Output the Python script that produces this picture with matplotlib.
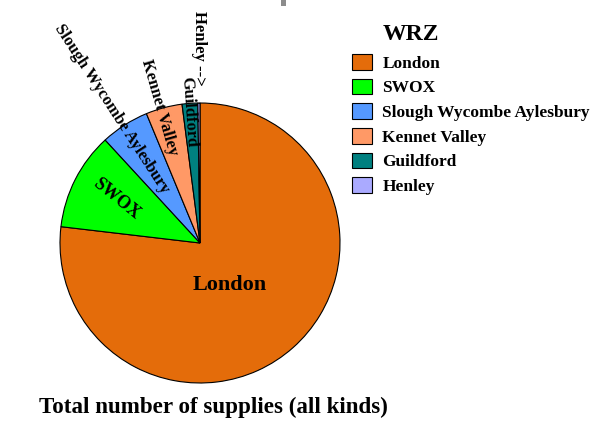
import matplotlib
matplotlib.use("Agg")
import matplotlib.pyplot as plt
from matplotlib.patches import Rectangle, Patch

categories = ["London", "SWOX", "Slough Wycombe Aylesbury", "Kennet Valley", "Guildford", "Henley"]
values = [76.9, 11.3, 5.6, 4.2, 1.8, 0.25]
colors = ["#E46C0A", "#00FF00", "#5599FF", "#FF9966", "#008080", "#AAAAFF"]
title = "Total number of supplies (all kinds)"
legend_title = "WRZ"

W, H = 602, 426
fig = plt.figure(figsize=(W / 100, H / 100), dpi=100)
ax = fig.add_axes([0, 0, 1, 1])

serif = ["Liberation Serif", "DejaVu Serif"]

cx, cy, r = 200, H - 243, 140
wedges, _ = ax.pie(values, colors=colors, startangle=90, counterclock=False,
                   center=(cx, cy), radius=r, frame=True,
                   wedgeprops=dict(edgecolor="black", linewidth=0.8))
ax.set_xlim(0, W)
ax.set_ylim(0, H)
ax.set_aspect("equal")
ax.axis("off")

def P(x, y):
    return x, H - y

# slice labels (pixel positions)
lbl = [
    ("London", (230, 285), 0, 16),
    ("SWOX", (116, 199), -39, 13),
    ("Slough Wycombe Aylesbury", (112, 109), -57, 12),
    ("Kennet Valley", (159, 107), -74, 12),
    ("Guildford", (189, 112), -86, 12),
    ("Henley -->", (199, 48), -90, 12),
]
for text, (x, y), rot, fs in lbl:
    ax.text(*P(x, y), text, rotation=rot, ha="center", va="center",
            fontsize=fs, fontweight="bold", family=serif, rotation_mode="anchor")

# legend
handles = [Patch(facecolor=c, edgecolor="black", linewidth=0.8) for c in colors]
leg = fig.legend(handles, categories, loc="upper left",
                 bbox_to_anchor=(352 / W, 1 - 54 / H), frameon=False,
                 prop=dict(family=serif, weight="bold", size=12.5),
                 handlelength=1.15, handleheight=1.0, handletextpad=0.6,
                 labelspacing=0.4, borderpad=0, borderaxespad=0)
fig.text(383 / W, 1 - 35 / H, legend_title, ha="left", va="center",
         fontsize=17, fontweight="bold", family=serif)

# title
fig.text(213 / W, 1 - 407 / H, title, ha="center", va="center",
         fontsize=16.6, fontweight="bold", family=serif)

# small gray mark at top
fig.patches.append(Rectangle((281, H - 6), 5, 6, transform=None,
                             facecolor="#8c8c8c", edgecolor="none"))

fig.savefig("out.png", dpi=100)
